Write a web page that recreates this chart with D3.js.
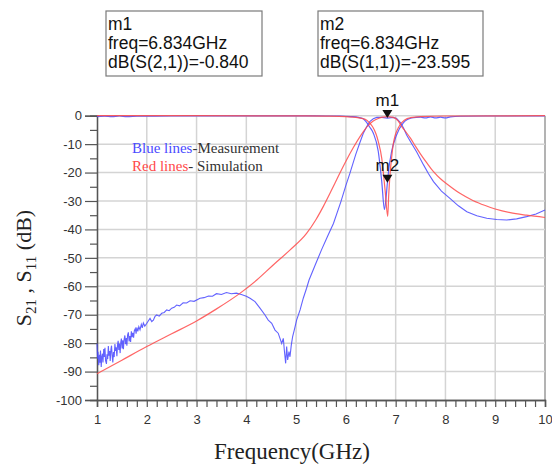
<!DOCTYPE html>
<html><head><meta charset="utf-8">
<script src="https://cdn.jsdelivr.net/npm/d3@7"></script>
<style>
html,body{margin:0;padding:0;background:#fff;}
svg{display:block;}
</style></head>
<body>
<svg id="c" width="552" height="464"></svg>
<script>
// ---- data ----
const xTicks = [1,2,3,4,5,6,7,8,9,10];
const xTickLabels = ["1","2","3","4","5","6","7","8","9","10"];
const yTicks = [0,-10,-20,-30,-40,-50,-60,-70,-80,-90,-100];
const yTickLabels = ["0","-10","-20","-30","-40","-50","-60","-70","-80","-90","-100"];

// Measured S21 (blue)
const measS21Freq = [1.00,1.012,1.02,1.035,1.05,1.058,1.07,1.085,1.095,1.11,1.12,1.135,1.148,1.16,1.172,1.19,1.2,1.215,1.228,1.24,1.255,1.265,1.28,1.292,1.305,1.318,1.33,1.345,1.36,1.372,1.385,1.4,1.412,1.425,1.438,1.45,1.465,1.478,1.49,1.505,1.518,1.53,1.545,1.56,1.575,1.59,1.6,1.615,1.63,1.645,1.66,1.675,1.69,1.705,1.72,1.735,1.75,1.77,1.785,1.8,1.82,1.84,1.864,1.89,1.91,1.931,1.96,1.998,2.03,2.065,2.10,2.132,2.165,2.199,2.25,2.30,2.35,2.40,2.45,2.50,2.55,2.60,2.66,2.73,2.80,2.87,2.95,3.07,3.15,3.24,3.32,3.40,3.50,3.60,3.70,3.80,3.90,4.00,4.074,4.174,4.274,4.375,4.44,4.51,4.576,4.64,4.676,4.71,4.743,4.763,4.79,4.81,4.83,4.857,4.877,4.903,4.93,4.963,5.01,5.08,5.144,5.21,5.26,5.40,5.51,5.63,5.75,5.90,6.00,6.08,6.20,6.28,6.35,6.42,6.48,6.55,6.62,6.72,6.834,6.95,7.02,7.10,7.16,7.22,7.32,7.42,7.56,7.66,7.76,7.92,8.09,8.26,8.43,8.63,8.83,9.03,9.23,9.43,9.63,9.82,10.0];
const measS21 = [-80.2,-85.5,-83.0,-87.8,-84.1,-86.9,-82.6,-88.4,-85.0,-83.7,-86.8,-82.1,-84.9,-81.6,-86.2,-87.3,-83.9,-85.6,-81.0,-84.4,-82.8,-86.3,-82.2,-80.9,-84.6,-86.8,-83.1,-84.9,-80.3,-82.7,-81.5,-84.6,-80.8,-79.2,-82.4,-80.1,-83.5,-79.6,-78.4,-81.9,-79.0,-82.1,-78.7,-77.3,-80.4,-78.2,-80.9,-77.1,-76.2,-79.4,-77.5,-79.6,-75.8,-77.9,-76.4,-78.1,-75.6,-74.9,-76.7,-74.5,-75.9,-74.2,-75.3,-73.4,-74.6,-72.9,-74.0,-73.1,-72.2,-71.3,-72.4,-71.9,-70.6,-70.1,-70.5,-69.5,-69.2,-68.3,-68.6,-67.7,-67.4,-66.6,-66.9,-65.8,-65.9,-65.1,-65.3,-64.2,-64.0,-63.4,-63.5,-62.6,-62.9,-62.2,-62.6,-62.4,-62.9,-63.5,-64.2,-65.4,-67.7,-70.1,-71.9,-73.0,-75.4,-76.5,-78.3,-80.1,-78.3,-82.4,-87.1,-81.2,-85.9,-83.0,-84.8,-80.7,-77.7,-75.4,-71.9,-68.3,-64.2,-60.7,-57.8,-51.8,-47.2,-42.5,-37.9,-30.2,-24.5,-20.3,-13.5,-9.5,-6.2,-3.8,-2.1,-1.1,-0.6,-0.6,-0.84,-0.6,-1.0,-2.5,-4.4,-6.8,-9.8,-12.7,-17.3,-20.4,-23.2,-26.5,-29.1,-31.7,-33.8,-35.2,-36.1,-36.5,-36.7,-36.3,-35.5,-34.6,-33.2];

// Measured S11 (blue)
const measS11Freq = [1.0,1.15,1.3,1.45,1.6,1.8,2.0,2.5,3.0,4.0,5.0,5.6,5.88,6.1,6.25,6.34,6.40,6.47,6.55,6.65,6.72,6.775,6.80,6.834,6.86,6.92,7.02,7.15,7.32,7.5,7.6,7.7,7.8,7.9,8.0,8.1,8.3,9.0,10.0];
const measS11 = [-0.3,-0.15,-0.35,-0.1,-0.35,-0.2,-0.15,-0.1,-0.05,-0.05,-0.05,-0.1,-0.1,-0.3,-0.6,-1.0,-2.0,-3.8,-6.1,-12.5,-23.1,-33.0,-30.0,-23.6,-19.0,-12.5,-6.7,-2.6,-0.8,-0.5,-0.8,-0.4,-0.8,-0.5,-0.8,-0.4,-0.2,-0.1,-0.1];

// Simulated S21 (red)
const simS21Freq = [1.0,1.5,2.0,2.5,3.0,3.37,3.87,4.21,4.54,4.88,5.21,5.4,5.55,5.7,5.85,6.0,6.15,6.3,6.45,6.55,6.65,6.74,6.83,6.95,7.05,7.12,7.2,7.3,7.4,7.5,7.63,7.76,7.9,8.03,8.29,8.55,8.8,9.0,9.3,9.63,10.0];
const simS21 = [-90.8,-86.0,-81.2,-76.7,-72.2,-68.3,-62.5,-57.8,-52.5,-47.2,-41.4,-36.5,-31.8,-26.6,-21.2,-16.0,-11.2,-6.9,-3.4,-1.9,-1.0,-0.5,-0.3,-0.6,-1.8,-3.8,-5.6,-8.0,-10.8,-13.5,-16.7,-19.7,-22.2,-24.0,-27.3,-29.8,-31.6,-32.8,-34.1,-35.0,-35.8];

// Simulated S11 (red)
const simS11Freq = [1.0,3.0,5.0,5.6,6.0,6.2,6.38,6.48,6.54,6.6,6.65,6.72,6.79,6.84,6.86,6.89,6.92,6.95,7.05,7.19,7.3,7.5,8.0,10.0];
const simS11 = [0,0,-0.05,-0.15,-0.35,-0.6,-1.2,-2.6,-4.0,-6.2,-9.0,-14.9,-26.6,-35.4,-28.0,-20.0,-14.5,-10.2,-4.3,-1.4,-0.7,-0.3,-0.1,0];

// markers
const markers = [
  {name:"m1", freq:6.834, value:-0.840, lines:["m1","freq=6.834GHz","dB(S(2,1))=-0.840"]},
  {name:"m2", freq:6.834, value:-23.595, lines:["m2","freq=6.834GHz","dB(S(1,1))=-23.595"]}
];

// ---- drawing ----
const svg = d3.select("#c");
svg.append("rect").attr("width",552).attr("height",464).attr("fill","#fff");

const pLeft = 97, pRight = 545, pTop = 115.7, pBottom = 400;
const x = d3.scaleLinear().domain([1,10]).range([pLeft,pRight]);
const y = d3.scaleLinear().domain([-100,0]).range([pBottom,pTop]);

// grid
const g = svg.append("g");
g.selectAll("line.vg").data(xTicks.slice(1)).join("line")
  .attr("x1",d=>x(d)).attr("x2",d=>x(d)).attr("y1",y(0)).attr("y2",y(-100))
  .attr("stroke",d=>d===10?"#9a9a9a":"#d4d4d4").attr("stroke-width",1.5);
g.selectAll("line.hg").data(yTicks.slice(0,-1)).join("line")
  .attr("x1",x(1)).attr("x2",x(10)).attr("y1",d=>y(d)).attr("y2",d=>y(d))
  .attr("stroke","#d4d4d4").attr("stroke-width",1.5);

// axes
const yAxis = d3.axisLeft(y).tickValues(yTicks).tickSize(12).tickPadding(3)
  .tickFormat((d,i)=>yTickLabels[i]);
const yAx = svg.append("g").attr("transform",`translate(${pLeft},0)`).call(yAxis);
const yMinor = d3.axisLeft(y).tickValues(d3.range(-95,0,10)).tickSize(7).tickFormat("");
const yAxm = svg.append("g").attr("transform",`translate(${pLeft},0)`).call(yMinor);

const xAxis = d3.axisBottom(x).tickValues(xTicks).tickSize(7).tickPadding(8)
  .tickFormat((d,i)=>xTickLabels[i]);
const xAx = svg.append("g").attr("transform",`translate(0,${pBottom})`).call(xAxis);
const xMinorVals = d3.range(1,10.001,0.2).filter(v=>Math.abs(v-Math.round(v))>0.01);
const xAxm = svg.append("g").attr("transform",`translate(0,${pBottom})`)
  .call(d3.axisBottom(x).tickValues(xMinorVals).tickSize(7).tickFormat(""));

[yAx,yAxm,xAx,xAxm].forEach(a=>{
  a.select(".domain").attr("stroke","#555").attr("stroke-width",1.3);
  a.selectAll(".tick line").attr("stroke","#555").attr("stroke-width",1.2);
  a.selectAll(".tick text").attr("fill","#333")
    .style("font-family","'Liberation Sans',Arial,sans-serif").style("font-size","13px");
});

// curves
const lineLin = d3.line().x(d=>x(d[0])).y(d=>y(d[1]));
const lineSm = d3.line().x(d=>x(d[0])).y(d=>y(d[1])).curve(d3.curveMonotoneX);
const zip = (a,b)=>a.map((v,i)=>[v,b[i]]);
const blue = "#4747ff", red = "#ff4a4a";
svg.append("path").datum(zip(measS11Freq,measS11)).attr("d",lineSm)
  .attr("fill","none").attr("stroke",blue).attr("stroke-width",1.2).attr("stroke-opacity",0.85);
svg.append("path").datum(zip(measS21Freq,measS21)).attr("d",lineLin)
  .attr("fill","none").attr("stroke",blue).attr("stroke-width",1.1).attr("stroke-opacity",0.85);
svg.append("path").datum(zip(simS21Freq,simS21)).attr("d",lineSm)
  .attr("fill","none").attr("stroke",red).attr("stroke-width",1.2).attr("stroke-opacity",0.85);
svg.append("path").datum(zip(simS11Freq,simS11)).attr("d",lineSm)
  .attr("fill","none").attr("stroke",red).attr("stroke-width",1.2).attr("stroke-opacity",0.85);

// legend
const serif = "'Liberation Serif','Times New Roman',serif";
const lg = svg.append("g").style("font-family",serif).style("font-size","15px");
const t1 = lg.append("text").attr("x",132).attr("y",153);
t1.append("tspan").attr("fill","#4a4aff").text("Blue lines");
t1.append("tspan").attr("fill","#333").text("-Measurement");
const t2 = lg.append("text").attr("x",132).attr("y",171);
t2.append("tspan").attr("fill","#ff4a4a").text("Red lines");
t2.append("tspan").attr("fill","#333").text("- Simulation");

// marker boxes
const sans = "'Liberation Sans',Arial,sans-serif";
const boxes = [{x0:106,x1:262},{x0:318,x1:483}];
markers.forEach((m,i)=>{
  const b = boxes[i];
  svg.append("rect").attr("x",b.x0).attr("y",11).attr("width",b.x1-b.x0).attr("height",65)
    .attr("fill","#fff").attr("stroke","#7a7a7a").attr("stroke-width",1.2);
  const tx = svg.append("text").style("font-family",sans).style("font-size","17.5px").attr("fill","#111");
  m.lines.forEach((l,j)=>tx.append("tspan").attr("x",b.x0+2).attr("y",30+j*19).text(l));
  const px = x(m.freq), py = y(m.value);
  svg.append("path").attr("d",`M${px-5},${py-8}L${px+5},${py-8}L${px},${py}Z`).attr("fill","#111");
  svg.append("text").attr("x",px).attr("y",py-12).attr("text-anchor","middle")
    .style("font-family",sans).style("font-size","17px").attr("fill","#111").text(m.name);
});

// axis titles
svg.append("text").attr("x",292).attr("y",459).attr("text-anchor","middle")
  .style("font-family",serif).style("font-size","23px").attr("fill","#222").text("Frequency(GHz)");
const yl = svg.append("text").attr("transform","translate(31,268) rotate(-90)")
  .attr("text-anchor","middle").style("font-family",serif).style("font-size","22px").attr("fill","#222");
yl.append("tspan").text("S");
yl.append("tspan").attr("dy",5).style("font-size","15px").text("21");
yl.append("tspan").attr("dy",-5).text(" , S");
yl.append("tspan").attr("dy",5).style("font-size","15px").text("11");
yl.append("tspan").attr("dy",-5).text(" (dB)");
</script>
</body></html>
